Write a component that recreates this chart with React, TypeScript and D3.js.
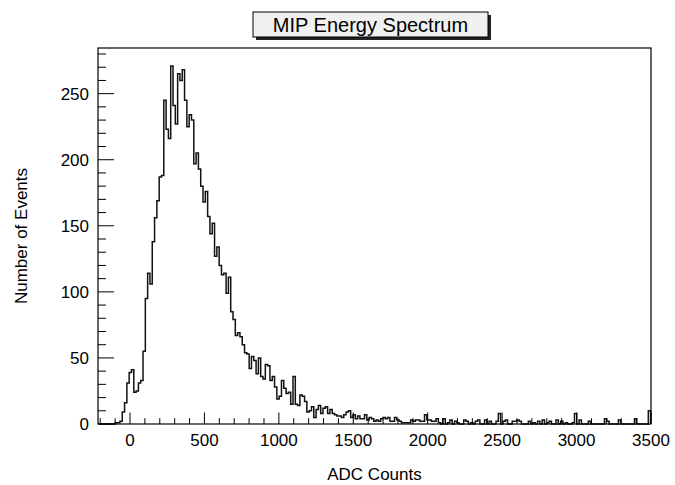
import React from "react";
import * as d3 from "d3";

// Histogram definition (ADC counts)
const BIN_START = -207;
const BIN_WIDTH = 15.5;
const COUNTS: number[] = [
  0, 0, 0, 0, 0, 0, 0, 1, 1, 2,
  9, 16, 31, 39, 41, 24, 25, 31, 33, 55,
  95, 114, 106, 138, 156, 169, 187, 188, 245, 223,
  216, 271, 241, 227, 265, 260, 268, 245, 225, 234,
  230, 197, 205, 193, 180, 168, 176, 157, 144, 152,
  127, 134, 120, 113, 114, 99, 111, 85, 79, 67,
  69, 66, 60, 54, 53, 42, 51, 48, 38, 50,
  36, 34, 45, 44, 33, 36, 28, 19, 21, 33,
  27, 23, 24, 15, 36, 15, 14, 22, 21, 17,
  9, 10, 13, 5, 11, 14, 8, 12, 13, 8,
  11, 8, 7, 6, 6, 5, 7, 9, 10, 5,
  7, 4, 6, 4, 4, 7, 3, 5, 4, 2,
  3, 2, 4, 5, 4, 5, 2, 2, 5, 3,
  2, 1, 1, 1, 1, 3, 2, 3, 3, 2,
  2, 7, 3, 3, 2, 2, 4, 1, 0, 4,
  0, 1, 3, 0, 2, 1, 0, 0, 3, 2,
  0, 1, 0, 2, 3, 0, 0, 3, 0, 2,
  0, 0, 2, 8, 0, 2, 3, 0, 0, 2,
  2, 3, 2, 0, 0, 0, 2, 0, 1, 0,
  2, 0, 3, 0, 1, 2, 0, 0, 3, 0,
  2, 0, 1, 0, 0, 1, 8, 0, 3, 0,
  0, 0, 2, 0, 0, 0, 0, 0, 0, 4,
  2, 0, 0, 0, 0, 3, 0, 0, 0, 0,
  0, 0, 4, 0, 0, 0, 0, 0, 10,
];

const X_DOMAIN: [number, number] = [-215, 3500];
const X_MAJOR_TICKS = [0, 500, 1000, 1500, 2000, 2500, 3000, 3500];
const Y_MAJOR_TICKS = [0, 50, 100, 150, 200, 250];
const X_TITLE = "ADC Counts";
const Y_TITLE = "Number of Events";
const TITLE = "MIP Energy Spectrum";

const W = 675;
const H = 485;
const FRAME = { left: 98, right: 651, top: 48, bottom: 424 };
const FONT = "'Liberation Sans', Arial, Helvetica, sans-serif";

export default function App() {
  const ymax = (d3.max(COUNTS) ?? 1) * 1.05;
  const x = d3.scaleLinear().domain(X_DOMAIN).range([FRAME.left, FRAME.right]);
  const y = d3.scaleLinear().domain([0, ymax]).range([FRAME.bottom, FRAME.top]);

  const pts: [number, number][] = [];
  pts.push([BIN_START, 0]);
  COUNTS.forEach((c, i) => {
    const a = BIN_START + i * BIN_WIDTH;
    pts.push([a, c]);
    pts.push([a + BIN_WIDTH, c]);
  });
  pts.push([BIN_START + COUNTS.length * BIN_WIDTH, 0]);
  const line = d3
    .line<[number, number]>()
    .x((d) => x(d[0]))
    .y((d) => y(d[1]));
  const path = line(pts) ?? "";

  const xMinor = d3.range(-200, 3501, 100).filter((v) => v >= X_DOMAIN[0] && !X_MAJOR_TICKS.includes(v));
  const yMinor = d3.range(0, ymax, 10).filter((v) => v % 50 !== 0);

  const fw = FRAME.right - FRAME.left;
  const fh = FRAME.bottom - FRAME.top;
  const yMajLen = 16;
  const yMinLen = 8;
  const xMajLen = 11.5;
  const xMinLen = 5.8;

  const titleBox = { x: 253, y: 12, w: 235, h: 25 };

  return (
    <svg
      width={W}
      height={H}
      style={{ position: "absolute", left: 0, top: 0, background: "#fff" }}
      fontFamily={FONT}
    >
      <rect x={0} y={0} width={W} height={H} fill="#fff" />
      {/* histogram */}
      <path d={path} fill="none" stroke="#111" strokeWidth={1.5} strokeLinejoin="miter" />
      {/* frame */}
      <rect x={FRAME.left} y={FRAME.top} width={fw} height={fh} fill="none" stroke="#000" strokeWidth={1.2} />
      {/* x ticks */}
      {X_MAJOR_TICKS.map((v) => (
        <line key={"xM" + v} x1={x(v)} x2={x(v)} y1={FRAME.bottom} y2={FRAME.bottom - xMajLen} stroke="#000" strokeWidth={1} />
      ))}
      {xMinor.map((v) => (
        <line key={"xm" + v} x1={x(v)} x2={x(v)} y1={FRAME.bottom} y2={FRAME.bottom - xMinLen} stroke="#000" strokeWidth={1} />
      ))}
      {X_MAJOR_TICKS.map((v) => (
        <text key={"xl" + v} x={x(v)} y={446} fontSize={17} textAnchor="middle" fill="#000">
          {v}
        </text>
      ))}
      {/* y ticks */}
      {Y_MAJOR_TICKS.map((v) => (
        <line key={"yM" + v} x1={FRAME.left} x2={FRAME.left + yMajLen} y1={y(v)} y2={y(v)} stroke="#000" strokeWidth={1} />
      ))}
      {yMinor.map((v) => (
        <line key={"ym" + v} x1={FRAME.left} x2={FRAME.left + yMinLen} y1={y(v)} y2={y(v)} stroke="#000" strokeWidth={1} />
      ))}
      {Y_MAJOR_TICKS.map((v) => (
        <text key={"yl" + v} x={89} y={y(v) + 6} fontSize={17} textAnchor="end" fill="#000">
          {v}
        </text>
      ))}
      {/* axis titles */}
      <text x={(FRAME.left + FRAME.right) / 2} y={480} fontSize={17} textAnchor="middle" fill="#000">
        {X_TITLE}
      </text>
      <text
        transform={`translate(27, ${(FRAME.top + FRAME.bottom) / 2}) rotate(-90)`}
        fontSize={17}
        textAnchor="middle"
        fill="#000"
      >
        {Y_TITLE}
      </text>
      {/* title box with shadow */}
      <rect x={titleBox.x + 3} y={titleBox.y + 3} width={titleBox.w} height={titleBox.h} fill="#222" />
      <rect x={titleBox.x} y={titleBox.y} width={titleBox.w} height={titleBox.h} fill="#f0f0f0" stroke="#000" strokeWidth={1} />
      <text x={titleBox.x + titleBox.w / 2} y={titleBox.y + 19.5} fontSize={20} textAnchor="middle" fill="#000">
        {TITLE}
      </text>
    </svg>
  );
}
